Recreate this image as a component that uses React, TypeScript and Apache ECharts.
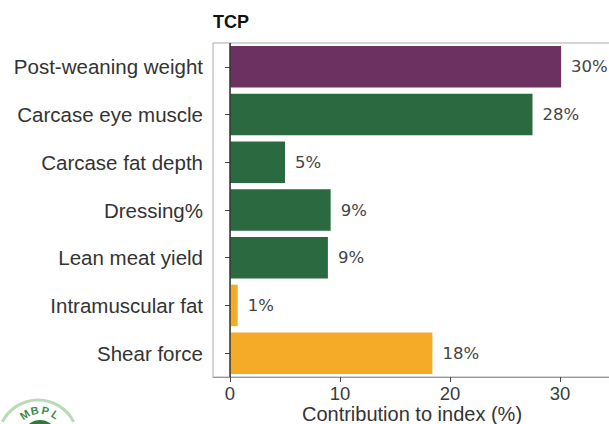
import React, { useEffect, useRef } from "react";
import * as echarts from "echarts";

const categories = [
  "Post-weaning weight",
  "Carcase eye muscle",
  "Carcase fat depth",
  "Dressing%",
  "Lean meat yield",
  "Intramuscular fat",
  "Shear force",
];
const values = [30.1, 27.5, 5.0, 9.15, 8.9, 0.7, 18.4];
const valueLabels = ["30%", "28%", "5%", "9%", "9%", "1%", "18%"];
const traitGroups = ["growth", "carcase", "carcase", "carcase", "carcase", "eating", "eating"];
const xTicks = [0, 10, 20, 30];

const groupColors: Record<string, string> = {
  growth: "#6c3160",
  carcase: "#2b6a40",
  eating: "#f6ab28",
};

export default function App() {
  const ref = useRef<HTMLDivElement>(null);
  useEffect(() => {
    if (!ref.current) return;
    const chart = echarts.init(ref.current, undefined, { renderer: "svg" });
    const pxPerUnit = 11;
    const gridLeft = 213;
    const gridRight = -2;
    const plotWidth = 609 - gridLeft - gridRight;
    const xMin = -(230 - gridLeft) / pxPerUnit;
    const xMax = xMin + plotWidth / pxPerUnit;
    const sans = "Liberation Sans";
    chart.setOption({
      animation: false,
      backgroundColor: "#ffffff",
      title: {
        text: "TCP",
        left: 213,
        top: 13,
        padding: 0,
        textStyle: { fontFamily: sans, fontSize: 18, fontWeight: "bold", color: "#111" },
      },
      grid: {
        left: gridLeft,
        right: gridRight,
        top: 43,
        bottom: 47,
        outerBoundsMode: "none",
        containLabel: false,
        show: true,
        borderColor: "#aaaaaa",
        borderWidth: 1,
        backgroundColor: "transparent",
      },
      xAxis: {
        type: "value",
        min: xMin,
        max: xMax,
        splitLine: { show: false },
        axisLine: { show: true, lineStyle: { color: "#999999", width: 1 } },
        axisTick: {
          show: true,
          length: 5,
          customValues: xTicks,
          lineStyle: { color: "#444444" },
        },
        axisLabel: {
          customValues: xTicks,
          fontFamily: sans,
          fontSize: 18.5,
          color: "#3a3a3a",
          margin: 7,
          formatter: (v: number) => String(Math.round(v)),
        },
        name: "Contribution to index (%)",
        nameLocation: "middle",
        nameGap: 27,
        nameMoveOverlap: false,
        nameTextStyle: { fontFamily: sans, fontSize: 20, lineHeight: 19, color: "#333333" },
      },
      yAxis: {
        type: "category",
        inverse: true,
        data: categories,
        axisLine: { show: true, lineStyle: { color: "#aaaaaa" } },
        axisTick: { show: true, length: 5, alignWithLabel: true, lineStyle: { color: "#444444" } },
        axisLabel: { fontFamily: sans, fontSize: 20.5, color: "#333333", margin: 10 },
        splitLine: { show: false },
      },
      series: [
        {
          type: "bar",
          barCategoryGap: "13%",
          data: values.map((v, i) => ({
            value: v,
            itemStyle: { color: groupColors[traitGroups[i]] },
          })),
          label: {
            show: true,
            position: "right",
            distance: 10,
            formatter: (p: any) => valueLabels[p.dataIndex],
            fontFamily: "DejaVu Sans",
            fontSize: 16.5,
            color: "#444444",
          },
          markLine: {
            silent: true,
            symbol: "none",
            label: { show: false },
            lineStyle: { color: "#333333", width: 1.5, type: "solid" },
            data: [{ xAxis: 0 }],
          },
        },
      ],
      graphic: [
        {
          type: "arc",
          shape: { cx: 38, cy: 440, r: 40, startAngle: Math.PI * 1.15, endAngle: Math.PI * 1.85 },
          style: { stroke: "#b9dcb8", lineWidth: 3, fill: "none" },
        },
        {
          type: "circle",
          shape: { cx: 40, cy: 437, r: 17 },
          style: { fill: "#2d7a3a" },
        },
        ...["M", "B", "P", "L"].map((ch, i) => {
          const ang = -0.6 + i * 0.4;
          const r = 27;
          return {
            type: "text",
            x: 40 + r * Math.sin(ang),
            y: 437 - r * Math.cos(ang),
            rotation: -ang,
            style: {
              text: ch,
              fill: "#3f8a48",
              font: "bold 11px Liberation Sans",
              align: "center",
              verticalAlign: "middle",
            },
          };
        }),
      ],
    });
    return () => chart.dispose();
  }, []);
  return (
    <div
      ref={ref}
      style={{ position: "fixed", left: 0, top: 0, width: 609, height: 424, background: "#fff" }}
    />
  );
}
